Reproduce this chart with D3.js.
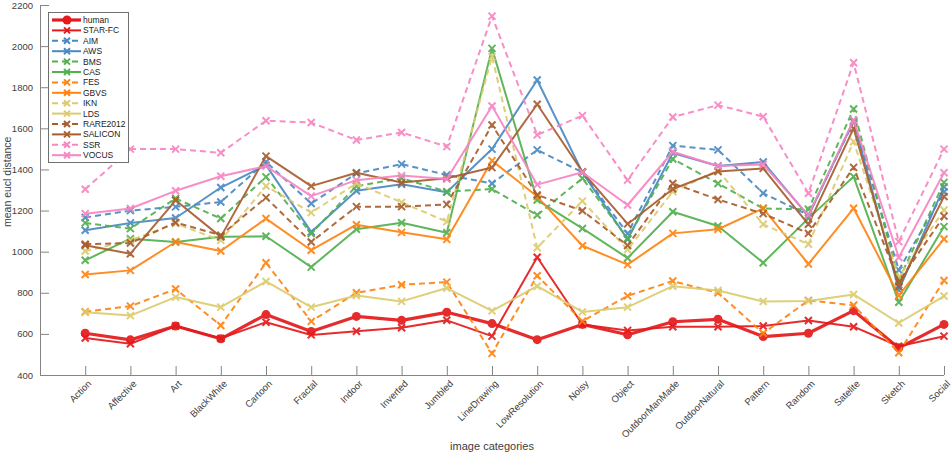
<!DOCTYPE html>
<html>
<head>
<meta charset="utf-8">
<script src="https://cdn.jsdelivr.net/npm/d3@7"></script>
<style>
  body { margin: 0; background: #fff; }
  text { font-family: "Liberation Sans", Arial, Helvetica, sans-serif; }
</style>
</head>
<body>
<script>
// categories
const categories = ['Action', 'Affective', 'Art', 'BlackWhite', 'Cartoon', 'Fractal', 'Indoor',
    'Inverted', 'Jumbled', 'LineDrawing', 'LowResolution', 'Noisy', 'Object', 'OutdoorManMade',
    'OutdoorNatural', 'Pattern', 'Random', 'Satelite', 'Sketch', 'Social'];

// y ticks
const yTicks = [400, 600, 800, 1000, 1200, 1400, 1600, 1800, 2000, 2200];

// mean eucl distance per model
const human = [603, 571, 638, 576, 694, 612, 685, 666, 705, 650, 572, 646, 596, 659, 671, 587, 603, 713, 532, 646];
const starFC = [580, 552, 638, 578, 657, 595, 613, 630, 666, 589, 973, 646, 617, 635, 635, 638, 665, 635, 540, 589];
const aim = [1166, 1200, 1218, 1242, 1437, 1234, 1381, 1426, 1373, 1332, 1495, 1386, 1088, 1516, 1495, 1284, 1178, 1632, 911, 1290];
const aws = [1104, 1140, 1164, 1312, 1421, 1096, 1296, 1328, 1289, 1499, 1835, 1386, 1060, 1480, 1417, 1436, 1173, 1637, 813, 1315];
const bms = [1140, 1112, 1259, 1161, 1364, 1088, 1319, 1357, 1292, 1305, 1178, 1357, 1065, 1451, 1332, 1210, 1206, 1694, 862, 1337];
const cas = [958, 1063, 1047, 1072, 1075, 925, 1109, 1141, 1092, 1989, 1251, 1113, 969, 1194, 1125, 946, 1162, 1365, 754, 1122];
const fes = [708, 735, 818, 641, 946, 661, 800, 839, 852, 505, 883, 662, 785, 857, 800, 603, 763, 739, 508, 860];
const gbvs = [889, 909, 1047, 1003, 1161, 1007, 1131, 1094, 1060, 1443, 1268, 1029, 937, 1089, 1109, 1211, 940, 1211, 787, 1062];
const ikn = [1003, 1055, 1137, 1055, 1319, 1190, 1332, 1240, 1146, 1949, 1019, 1246, 1010, 1292, 1395, 1133, 1036, 1535, 878, 1203];
const lds = [705, 689, 779, 730, 855, 730, 787, 758, 823, 712, 832, 707, 730, 832, 811, 758, 760, 792, 653, 784];
const rare2012 = [1036, 1042, 1142, 1080, 1263, 1047, 1219, 1219, 1230, 1616, 1276, 1199, 1030, 1332, 1254, 1185, 1089, 1410, 854, 1173];
const salicon = [1031, 990, 1250, 1072, 1465, 1319, 1384, 1336, 1357, 1409, 1717, 1389, 1135, 1305, 1390, 1405, 1133, 1600, 830, 1268];
const ssr = [1304, 1499, 1499, 1481, 1637, 1628, 1543, 1580, 1511, 2146, 1568, 1662, 1348, 1655, 1713, 1657, 1284, 1919, 1049, 1499];
const vocus = [1185, 1210, 1296, 1367, 1416, 1270, 1348, 1370, 1353, 1709, 1326, 1386, 1227, 1486, 1417, 1424, 1178, 1640, 972, 1384];

// colours (paired: dashed / solid)
const red = '#e41a1c', blue = '#4a89c2', green = '#52b04f', orange = '#ff8412',
    khaki = '#dccb6e', brown = '#a85d2e', pink = '#f786c2';

const series = [
    {name: 'human', values: human, color: red, dash: false, dot: true},
    {name: 'STAR-FC', values: starFC, color: red, dash: false},
    {name: 'AIM', values: aim, color: blue, dash: true},
    {name: 'AWS', values: aws, color: blue, dash: false},
    {name: 'BMS', values: bms, color: green, dash: true},
    {name: 'CAS', values: cas, color: green, dash: false},
    {name: 'FES', values: fes, color: orange, dash: true},
    {name: 'GBVS', values: gbvs, color: orange, dash: false},
    {name: 'IKN', values: ikn, color: khaki, dash: true},
    {name: 'LDS', values: lds, color: khaki, dash: false},
    {name: 'RARE2012', values: rare2012, color: brown, dash: true},
    {name: 'SALICON', values: salicon, color: brown, dash: false},
    {name: 'SSR', values: ssr, color: pink, dash: true},
    {name: 'VOCUS', values: vocus, color: pink, dash: false}
];

const width = 952;
const height = 454;
const padding = {top: 5, right: 8, bottom: 79, left: 40};
const axisColor = '#858585';
const textColor = '#404040';

const svg = d3.select('body')
    .append('svg')
    .attr('width', width)
    .attr('height', height);

const xScale = d3.scaleLinear()
    .domain([0, categories.length])
    .range([padding.left, width - padding.right]);

const yScale = d3.scaleLinear()
    .domain([400, 2200])
    .range([height - padding.bottom, padding.top]);

// x轴
const xAxis = d3.axisBottom(xScale)
    .tickValues(d3.range(1, categories.length + 1))
    .tickSize(-9)
    .tickFormat(d => categories[d - 1]);

const gx = svg.append('g')
    .attr('transform', 'translate(0,' + (height - padding.bottom) + ')')
    .call(xAxis);
gx.select('.domain').attr('stroke', axisColor).attr('d',
    'M' + padding.left + ',0.5H' + (width - padding.right));
gx.selectAll('.tick line').attr('stroke', axisColor);
gx.selectAll('.tick text')
    .attr('fill', textColor)
    .attr('font-size', 9.5)
    .attr('text-anchor', 'end')
    .attr('transform', 'translate(4,7) rotate(-45)')
    .attr('x', 0)
    .attr('y', 0)
    .attr('dy', '0.35em');

// y轴
const yAxis = d3.axisLeft(yScale)
    .tickValues(yTicks)
    .tickSize(-9)
    .tickPadding(7)
    .tickFormat(d3.format('d'));

const gy = svg.append('g')
    .attr('transform', 'translate(' + padding.left + ',0)')
    .call(yAxis);
gy.select('.domain').attr('stroke', axisColor).attr('d',
    'M0.5,' + yScale(400) + 'V' + yScale(2200));
gy.selectAll('.tick line').attr('stroke', axisColor);
gy.selectAll('.tick text').attr('fill', textColor).attr('font-size', 9.5);

// axis titles
svg.append('text')
    .attr('x', (xScale(0) + xScale(categories.length)) / 2)
    .attr('y', 450)
    .attr('text-anchor', 'middle')
    .attr('font-size', 11)
    .attr('fill', textColor)
    .text('image categories');

svg.append('text')
    .attr('transform', 'translate(11,' + (yScale(1340)) + ') rotate(-90)')
    .attr('text-anchor', 'middle')
    .attr('font-size', 10.5)
    .attr('fill', textColor)
    .text('mean eucl distance');

// 直线生成器
const linePath = d3.line()
    .x((d, i) => xScale(i + 1))
    .y(d => yScale(d));

function drawCross(g, x, y, r, color) {
    g.append('path')
        .attr('d', 'M' + (x - r) + ',' + (y - r) + 'L' + (x + r) + ',' + (y + r) +
            'M' + (x - r) + ',' + (y + r) + 'L' + (x + r) + ',' + (y - r))
        .attr('stroke', color)
        .attr('stroke-width', 2)
        .attr('fill', 'none');
}

const plot = svg.append('g');

series.forEach(s => {
    const g = plot.append('g').attr('opacity', 0.92);
    g.append('path')
        .attr('d', linePath(s.values))
        .attr('fill', 'none')
        .attr('stroke', s.color)
        .attr('stroke-width', s.dot ? 3.2 : 2)
        .attr('stroke-dasharray', s.dash ? '6,4' : null)
        .attr('stroke-linejoin', 'round');
    s.values.forEach((v, i) => {
        if (s.dot) {
            g.append('circle')
                .attr('cx', xScale(i + 1))
                .attr('cy', yScale(v))
                .attr('r', 4.5)
                .attr('fill', s.color);
        } else {
            drawCross(g, xScale(i + 1), yScale(v), 3.5, s.color);
        }
    });
});

// legend
const legend = svg.append('g').attr('transform', 'translate(48,12)');
const rowH = 10.4;
legend.append('rect')
    .attr('x', 0.5)
    .attr('y', 0.5)
    .attr('width', 80)
    .attr('height', 150)
    .attr('fill', '#fff')
    .attr('stroke', '#707070')
    .attr('stroke-width', 1);

series.forEach((s, i) => {
    const y = 8 + i * rowH;
    legend.append('line')
        .attr('x1', 4)
        .attr('x2', 33)
        .attr('y1', y)
        .attr('y2', y)
        .attr('stroke', s.color)
        .attr('stroke-width', s.dot ? 3.2 : 2)
        .attr('stroke-dasharray', s.dash ? '6,4' : null);
    if (s.dot) {
        legend.append('circle').attr('cx', 19).attr('cy', y).attr('r', 4.5).attr('fill', s.color);
    } else {
        drawCross(legend, 19, y, 3, s.color);
    }
    legend.append('text')
        .attr('x', 35)
        .attr('y', y)
        .attr('dy', '0.35em')
        .attr('font-size', 8.5)
        .attr('fill', '#222')
        .text(s.name);
});
</script>
</body>
</html>
